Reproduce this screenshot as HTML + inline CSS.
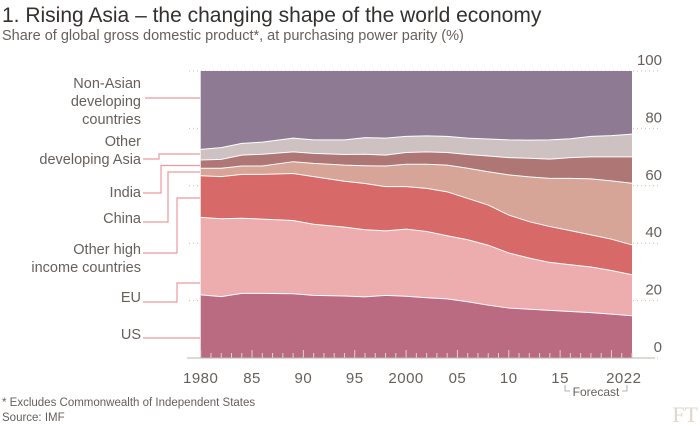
<!DOCTYPE html>
<html><head><meta charset="utf-8"><style>
body{margin:0;background:#fff;width:700px;height:426px;overflow:hidden;font-family:"Liberation Sans",sans-serif}
svg{display:block}
</style></head><body>
<svg id="chart" width="700" height="426" xmlns="http://www.w3.org/2000/svg">
<text x="2" y="22" font-size="21" fill="#33302e">1. Rising Asia – the changing shape of the world economy</text>
<text x="2" y="40" font-size="14.5" fill="#66605c">Share of global gross domestic product*, at purchasing power parity (%)</text>
<g id="grid"></g>
<g id="areas"></g>
<g id="xaxis"></g>
<g id="yaxis"></g>
<g id="labels" font-size="14.5" fill="#66605c" text-anchor="end"></g>
<g stroke="#999" fill="none" stroke-width="0.8">
<path d="M565,385 V391 H570 M622,391 H627 V385"/>
</g>
<text x="596" y="396" font-size="12" fill="#66605c" text-anchor="middle">Forecast</text>
<text x="2" y="406" font-size="11.5" fill="#66605c">* Excludes Commonwealth of Independent States</text>
<text x="2" y="421" font-size="11.5" fill="#66605c">Source: IMF</text>
<text x="698" y="422" font-size="22" fill="#e0d6cc" text-anchor="end" font-family="Liberation Serif,serif">FT</text>
</svg>
<script>
const years = [1980,1982,1984,1986,1989,1991,1994,1996,1998,2000,2002,2004,2006,2008,2010,2012,2014,2016,2018,2020,2022];
// cumulative top boundary of each band (%)
const usTop    = [22.0,21.4,22.5,22.5,22.4,21.8,21.6,21.3,21.8,21.5,21.0,20.6,19.6,18.4,17.4,17.0,16.6,16.2,15.8,15.3,14.7];
const euTop    = [49.0,48.5,48.7,48.4,47.9,46.6,45.6,44.7,44.3,44.9,44.1,42.6,41.2,39.3,36.6,34.8,33.3,32.5,31.7,30.5,29.0];
const ohiTop   = [63.5,63.2,64.0,64.0,64.3,63.2,61.6,60.8,59.7,59.7,59.1,57.9,55.6,53.3,49.8,47.5,45.8,44.4,42.9,41.4,39.4];
const chinaTop = [66.1,66.1,66.9,66.9,68.4,67.8,67.2,67.0,66.9,67.5,67.5,67.2,66.1,64.9,63.8,63.1,62.6,62.6,62.4,61.7,60.9];
const indiaTop = [69.0,69.2,70.7,71.0,71.8,71.3,70.9,71.0,70.7,71.6,71.8,71.6,70.9,70.4,69.8,69.6,69.3,69.8,70.1,70.1,70.1];
const odaTop   = [72.7,73.3,74.8,75.2,76.6,76.0,76.0,76.8,76.6,77.2,77.4,77.2,76.6,76.3,76.0,75.9,76.0,76.4,77.2,77.5,78.0];
const nonAsianTop = years.map(()=>100);
const yTicks = [0,20,40,60,80,100];
const xTickLabels = ["1980","85","90","95","2000","05","10","15","2022"];
const xTickYears = [1980,1985,1990,1995,2000,2005,2010,2015,2021.2];

const NS="http://www.w3.org/2000/svg";
const X0=200.7,X1=632,Y0=358,Y100=71;
const xs=y=>X0+(y-1980)*(X1-X0)/42;
const ys=v=>Y0-v*(Y0-Y100)/100;
function mk(tag,attrs,parent){const e=document.createElementNS(NS,tag);for(const k in attrs)e.setAttribute(k,attrs[k]);parent.appendChild(e);return e;}

const grid=document.getElementById('grid');
yTicks.forEach(v=>{
  const l=mk('line',{x1:189,x2:660,y1:ys(v),y2:ys(v),stroke:'#c9bfa9','stroke-dasharray':'1,3','stroke-width':1},grid);
  
  
});
const yax=document.getElementById('yaxis');
yTicks.forEach(v=>{
  const t=mk('text',{x:662,y:ys(v)-6,'font-size':15,fill:'#66605c','text-anchor':'end'},yax);
  t.textContent=v;
  
  
});

const series=[
 {name:'us',top:usTop,bot:null,col:'#bb6b81'},
 {name:'eu',top:euTop,bot:usTop,col:'#edadae'},
 {name:'other-high-income',top:ohiTop,bot:euTop,col:'#d76a69'},
 {name:'china',top:chinaTop,bot:ohiTop,col:'#d6a598'},
 {name:'india',top:indiaTop,bot:chinaTop,col:'#ae7675'},
 {name:'other-developing-asia',top:odaTop,bot:indiaTop,col:'#cdc1c1'},
 {name:'non-asian-developing',top:nonAsianTop,bot:odaTop,col:'#8e7a93'}
];
const ar=document.getElementById('areas');
series.forEach(s=>{
  let d='M'+years.map((y,i)=>xs(y)+','+ys(s.top[i])).join(' L');
  for(let i=years.length-1;i>=0;i--) d+=' L'+xs(years[i])+','+ys(s.bot?s.bot[i]:0);
  const p=mk('path',{d:d+'Z',fill:s.col,stroke:'none'},ar);
  
  
});
series.slice(0,6).forEach(s=>{
  const p=mk('path',{d:'M'+years.map((y,i)=>xs(y)+','+ys(s.top[i])).join(' L'),fill:'none',stroke:'#fff','stroke-width':1},ar);
  
  
});

const xa=document.getElementById('xaxis');
for(let y=1980;y<=2022;y++){
  const t=mk('line',{x1:xs(y),x2:xs(y),y1:Y0,y2:Y0-(y%5===0?8:5),stroke:'#ddd3cf','stroke-width':1},xa);
  
  
}
const base=mk('line',{x1:187,x2:655,y1:Y0,y2:Y0,stroke:'#bbb3ab','stroke-width':1},xa);


xTickLabels.forEach((lab,i)=>{
  const t=mk('text',{x:xs(xTickYears[i]),y:383,'font-size':15,fill:'#66605c','text-anchor':'middle','letter-spacing':'0.5'},xa);
  t.textContent=lab;
  
  
});

const lb=document.getElementById('labels');
const labelDefs=[
 {lines:[['Non-Asian',88],['developing',106],['countries',124]],path:'M145,98 H200'},
 {lines:[['Other',146],['developing Asia',164]],path:'M143,159 H159 V154 H200'},
 {lines:[['India',197]],path:'M143,193 H161 V165.5 H200'},
 {lines:[['China',223]],path:'M143,222 H168 V172 H200'},
 {lines:[['Other high',254],['income countries',272]],path:'M143,253 H177 V198 H200'},
 {lines:[['EU',302]],path:'M143,302 H177 V283 H200'},
 {lines:[['US',339]],path:'M143,338 H200'}
];
labelDefs.forEach((d,i)=>{
  d.lines.forEach(l=>{
    const t=mk('text',{x:141,y:l[1]},lb);
    t.textContent=l[0];
    
    
  });
  const p=mk('path',{d:d.path,fill:'none',stroke:'#e89a9f','stroke-width':1.2},lb);
  
  
});
</script>
</body></html>
